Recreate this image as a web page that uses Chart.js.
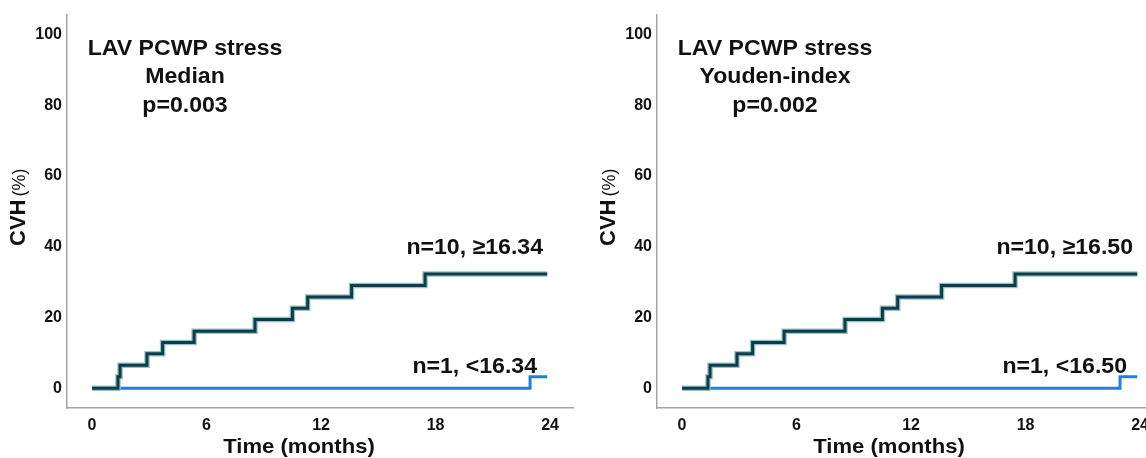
<!DOCTYPE html>
<html>
<head>
<meta charset="utf-8">
<script src="https://cdn.jsdelivr.net/npm/chart.js@4.4.1/dist/chart.umd.min.js"></script>
<style>
  html, body { margin: 0; padding: 0; background: #fff; overflow: hidden; }
  #wrap { position: relative; width: 1146px; height: 458px; overflow: hidden; }
  canvas { position: absolute; top: 0; }
</style>
</head>
<body>
<div id="wrap">
  <canvas id="left" width="590" height="458" style="left:0"></canvas>
  <canvas id="right" width="590" height="458" style="left:590px"></canvas>
</div>
<script>
// cumulative CVH (%) over time (months), step curves
const timeHigh = [0, 1.36, 1.47, 2.88, 3.7, 5.35, 8.54, 10.5, 11.3, 13.6, 17.45, 23.85];
const cvhHigh  = [0, 3.2, 6.5, 9.7, 12.9, 16.1, 19.4, 22.6, 25.8, 29.0, 32.3, 32.3];
const timeLow  = [0, 22.95, 23.85];
const cvhLow   = [0, 3.2, 3.2];

const xTicks = [0, 6, 12, 18, 24];
const yTicks = [0, 20, 40, 60, 80, 100];

const leftTitle  = ['LAV PCWP stress', 'Median', 'p=0.003'];
const rightTitle = ['LAV PCWP stress', 'Youden-index', 'p=0.002'];
const leftGroups  = ['n=10, \u226516.34', 'n=1, <16.34'];
const rightGroups = ['n=10, \u226516.50', 'n=1, <16.50'];

const DARK = '#123c44';
const HALO = '#8fc3cc';
const BLUE = '#1e80e2';
const TXT = '#111';
const AXIS = '#a3a3a3';
const FONT = '"Liberation Sans", Arial, sans-serif';
const STRETCH = 1.05; // source glyphs are a bit wide

function pts(xs, ys) {
  return xs.map((x, i) => ({ x: x, y: ys[i] }));
}

function wideText(ctx, str, x, y) {
  ctx.save();
  ctx.translate(x, y);
  ctx.scale(STRETCH, 1);
  ctx.fillText(str, 0, 0);
  ctx.restore();
}

// texts drawn on top of each panel
const textPlugin = {
  id: 'panelText',
  afterDraw(chart, args, opts) {
    const ctx = chart.ctx;
    ctx.save();
    ctx.fillStyle = TXT;
    ctx.textBaseline = 'alphabetic';

    // top-left caption
    ctx.font = 'bold 22px ' + FONT;
    ctx.textAlign = 'center';
    wideText(ctx, opts.title[0], 185, 55);
    wideText(ctx, opts.title[1], 185, 83);
    wideText(ctx, opts.title[2], 185, 112);

    // group labels
    ctx.font = 'bold 22px ' + FONT;
    ctx.textAlign = 'right';
    wideText(ctx, opts.groups[0], 543, 254);
    wideText(ctx, opts.groups[1], 537, 373);

    // x axis title
    ctx.font = 'bold 21px ' + FONT;
    ctx.textAlign = 'center';
    wideText(ctx, 'Time (months)', 299, 453);

    // y axis title
    ctx.translate(25, 246);
    ctx.rotate(-Math.PI / 2);
    ctx.textAlign = 'left';
    ctx.font = 'bold 22px ' + FONT;
    ctx.fillText('CVH', 0, 0);
    const w = ctx.measureText('CVH ').width;
    ctx.font = '18px ' + FONT;
    ctx.fillText('(%)', w - 3, 0);
    ctx.restore();
  }
};

function makeChart(id, title, groups) {
  const ctx = document.getElementById(id);
  return new Chart(ctx, {
    type: 'line',
    data: {
      datasets: [
        { data: pts(timeHigh, cvhHigh), borderColor: DARK, borderWidth: 3, order: 0 },
        { data: pts(timeHigh, cvhHigh), borderColor: HALO, borderWidth: 5.5, order: 1 },
        { data: pts(timeLow, cvhLow), borderColor: BLUE, borderWidth: 3, order: 2 }
      ]
    },
    options: {
      responsive: false,
      animation: false,
      events: [],
      layout: { padding: { left: 0, top: 13, right: 17, bottom: 0 } },
      elements: {
        point: { radius: 0 },
        line: { stepped: true, fill: false, borderCapStyle: 'butt', borderJoinStyle: 'miter' }
      },
      scales: {
        x: {
          type: 'linear',
          min: -1.31,
          max: 25.2,
          afterBuildTicks: s => { s.ticks = xTicks.map(v => ({ value: v })); },
          afterFit: s => { s.height = 50; },
          grid: { display: false, drawTicks: false },
          border: { display: true, color: AXIS, width: 1.5 },
          ticks: { padding: 8, color: TXT, font: { family: FONT, size: 16, weight: 'bold' } }
        },
        y: {
          type: 'linear',
          min: -5.6,
          max: 105.6,
          afterBuildTicks: s => { s.ticks = yTicks.map(v => ({ value: v })); },
          afterFit: s => { s.width = 67; },
          grid: { display: false, drawTicks: false },
          border: { display: true, color: AXIS, width: 1.5 },
          ticks: { padding: 5, color: TXT, font: { family: FONT, size: 16, weight: 'bold' } }
        }
      },
      plugins: {
        legend: { display: false },
        tooltip: { enabled: false },
        panelText: { title: title, groups: groups }
      }
    },
    plugins: [textPlugin]
  });
}

makeChart('left', leftTitle, leftGroups);
makeChart('right', rightTitle, rightGroups);
</script>
</body>
</html>
